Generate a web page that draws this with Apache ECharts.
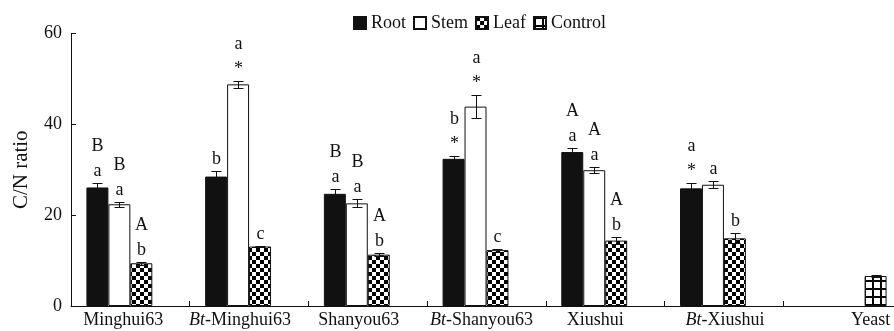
<!DOCTYPE html>
<html>
<head>
<meta charset="utf-8">
<script src="https://cdn.jsdelivr.net/npm/echarts@6/dist/echarts.min.js"></script>
<style>
html,body{margin:0;padding:0;background:#fff;}
#chart{width:894px;height:331px;}
</style>
</head>
<body>
<div id="chart"></div>
<script>
// ---- data ----
var categories = ['Minghui63', 'Bt-Minghui63', 'Shanyou63', 'Bt-Shanyou63', 'Xiushui', 'Bt-Xiushui', 'Yeast'];
var seriesNames = ['Root', 'Stem', 'Leaf', 'Control'];
var rootValues    = [26.1, 28.5, 24.7, 32.4, 33.9, 25.9, null];
var rootErrors    = [0.9, 1.3, 1.0, 0.7, 0.8, 1.1, null];
var stemValues    = [22.4, 48.8, 22.6, 43.9, 29.9, 26.7, null];
var stemErrors    = [0.6, 0.7, 0.9, 2.6, 0.7, 0.8, null];
var leafValues    = [9.4, 13.1, 11.3, 12.3, 14.4, 14.9, null];
var leafErrors    = [0.3, 0.2, 0.3, 0.3, 0.8, 1.1, null];
var controlValues = [null, null, null, null, null, null, 6.6];
var controlErrors = [null, null, null, null, null, null, 0.2];
var rootLetters    = ['B\na', 'b', 'B\na', 'b\n*', 'A\na', 'a\n*', ''];
var stemLetters    = ['B\na', 'a\n*', 'B\na', 'a\n*', 'A\na', 'a', ''];
var leafLetters    = ['A\nb', 'c', 'A\nb', 'c', 'A\nb', 'b', ''];
var controlLetters = ['', '', '', '', '', '', ''];
var yTicks = [0, 20, 40, 60];

// ---- styling / layout ----
var FONT = '"Liberation Serif", "Times New Roman", serif';
var INK = '#111';
var labelNudge = [-7, -9, -9, -5, -10, 1, 28]; // px horizontal shift of category labels

function makeChecker() {
  var c = document.createElement('canvas');
  c.width = 8; c.height = 8;
  var g = c.getContext('2d');
  g.fillStyle = '#fff'; g.fillRect(0, 0, 8, 8);
  g.fillStyle = '#000';
  g.fillRect(0, 0, 4, 4); g.fillRect(4, 4, 4, 4);
  return c;
}
function makeGrid() {
  var c = document.createElement('canvas');
  c.width = 8; c.height = 8;
  var g = c.getContext('2d');
  g.fillStyle = '#fff'; g.fillRect(0, 0, 8, 8);
  g.fillStyle = '#000';
  g.fillRect(0, 0, 2, 8); g.fillRect(0, 0, 8, 2);
  return c;
}

var valueSets = [rootValues, stemValues, leafValues, controlValues];
var errorSets = [rootErrors, stemErrors, leafErrors, controlErrors];
var letterSets = [rootLetters, stemLetters, leafLetters, controlLetters];

var fills = [
  {color: INK, borderColor: INK, borderWidth: 1},
  {color: '#fff', borderColor: INK, borderWidth: 1},
  {color: {image: makeChecker(), repeat: 'repeat'}, borderColor: INK, borderWidth: 1},
  {color: {image: makeGrid(), repeat: 'repeat'}, borderColor: INK, borderWidth: 1}
];

var errData = [];
var errLabels = [];
for (var s = 0; s < 4; s++) {
  for (var c = 0; c < categories.length; c++) {
    var v = valueSets[s][c];
    if (v == null) continue;
    errData.push([c, s, v, errorSets[s][c]]);
    errLabels.push(letterSets[s][c]);
  }
}

var BAR_FRACTION = 0.74;

function renderErr(params, api) {
  var cat = api.value(0), s = api.value(1), v = api.value(2), e = api.value(3);
  var p = api.coord([cat, v]);
  var band = api.size([1, 0])[0];
  var bw = band * BAR_FRACTION / 4;
  var x = Math.round(p[0] + (s - 1.5) * bw) + 0.5;
  var yT = Math.round(api.coord([cat, v + e])[1]) + 0.5;
  var yB = Math.round(api.coord([cat, v - e])[1]) + 0.5;
  var ls = {stroke: INK, lineWidth: 1};
  var children = [
    {type: 'line', shape: {x1: x, y1: yT, x2: x, y2: yB}, style: ls},
    {type: 'line', shape: {x1: x - 5, y1: yT, x2: x + 5, y2: yT}, style: ls},
    {type: 'line', shape: {x1: x - 5, y1: yB, x2: x + 5, y2: yB}, style: ls}
  ];
  var txt = errLabels[params.dataIndex];
  if (txt) {
    var lines = txt.split('\n');
    for (var i = 0; i < lines.length; i++) {
      var fromBottom = lines.length - 1 - i;
      var baseline = yT - 6.5 - fromBottom * 25;
      children.push({
        type: 'text',
        style: {
          text: lines[i], x: x, y: baseline - 6,
          align: 'center', verticalAlign: 'middle',
          font: '18px ' + FONT, fill: INK
        }
      });
    }
  }
  return {type: 'group', children: children};
}

var catData = categories.map(function (name, i) {
  var n = labelNudge[i];
  return {
    value: name,
    textStyle: {padding: n >= 0 ? [0, 0, 0, 2 * n] : [0, -2 * n, 0, 0]}
  };
});

var series = seriesNames.map(function (name, s) {
  return {
    name: name,
    type: 'bar',
    data: valueSets[s],
    barGap: '0%',
    barCategoryGap: ((1 - BAR_FRACTION) * 100) + '%',
    itemStyle: fills[s],
    emphasis: {disabled: true},
    animation: false
  };
});
series.push({
  type: 'custom',
  renderItem: renderErr,
  data: errData,
  encode: {x: 0, y: 2},
  z: 5,
  silent: true,
  animation: false
});

var chart = echarts.init(document.getElementById('chart'), null, {renderer: 'canvas'});
chart.setOption({
  animation: false,
  backgroundColor: '#fff',
  textStyle: {fontFamily: FONT, color: INK},
  legend: {
    data: seriesNames,
    left: 348,
    top: 9,
    itemWidth: 12,
    itemHeight: 12,
    itemGap: 7,
    icon: 'rect',
    selectedMode: false,
    textStyle: {fontFamily: FONT, fontSize: 18, color: INK}
  },
  grid: {left: 71, right: -8, top: 33.5, bottom: 25, containLabel: false, outerBoundsMode: 'none'},
  xAxis: {
    type: 'category',
    data: catData,
    axisLine: {lineStyle: {color: INK, width: 1}},
    axisTick: {show: true, inside: true, length: 5, interval: 0, alignWithLabel: false, lineStyle: {color: INK}},
    axisLabel: {
      interval: 0,
      margin: 5,
      fontFamily: FONT,
      fontSize: 18,
      color: INK,
      formatter: function (v) {
        if (v.indexOf('Bt-') === 0) return '{i|Bt}-' + v.slice(3);
        return v;
      },
      rich: {i: {fontStyle: 'italic', fontFamily: FONT, fontSize: 18, color: INK}}
    },
    splitLine: {show: false}
  },
  yAxis: {
    type: 'value',
    min: yTicks[0],
    max: yTicks[yTicks.length - 1],
    interval: yTicks[1] - yTicks[0],
    name: 'C/N ratio',
    nameLocation: 'middle',
    nameGap: 39,
    nameRotate: 90,
    nameTextStyle: {fontFamily: FONT, fontSize: 21, color: INK},
    axisLine: {show: true, lineStyle: {color: INK, width: 1}},
    axisTick: {show: true, inside: true, length: 5, lineStyle: {color: INK}},
    axisLabel: {margin: 9, fontFamily: FONT, fontSize: 18, color: INK},
    splitLine: {show: false}
  },
  series: series
});
</script>
</body>
</html>
